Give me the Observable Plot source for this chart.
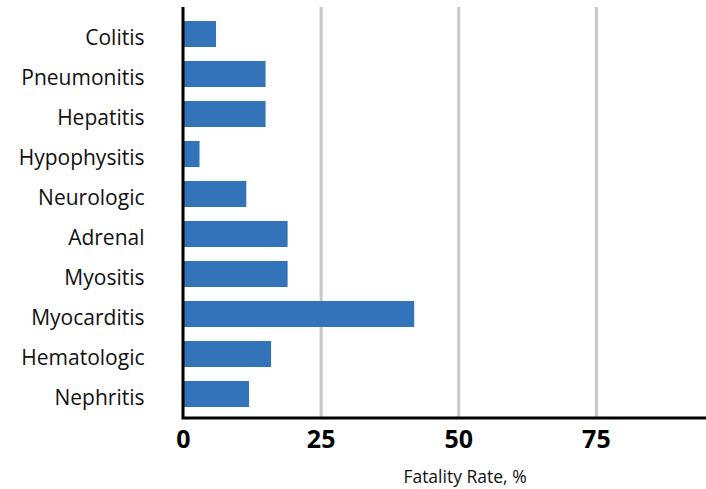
<!DOCTYPE html>
<html>
<head>
<meta charset="utf-8">
<script src="https://cdn.jsdelivr.net/npm/d3@7"></script>
<script src="https://cdn.jsdelivr.net/npm/@observablehq/plot@0.6"></script>
<style>
  html, body { margin: 0; padding: 0; background: #fff; }
  #chart svg { font-family: "Open Sans", sans-serif; }
  #chart g[aria-label="x-axis tick label"] text { font-weight: bold; }
</style>
</head>
<body>
<div id="chart"></div>
<script>
const categories = ["Colitis", "Pneumonitis", "Hepatitis", "Hypophysitis", "Neurologic", "Adrenal", "Myositis", "Myocarditis", "Hematologic", "Nephritis"];
const fatalityRates = [6, 15, 15, 3, 11.5, 19, 19, 42, 16, 12];
const xTicks = [0, 25, 50, 75];
const gridTicks = [25, 50, 75];
const xLabel = "Fatality Rate, %";

const data = categories.map((c, i) => ({category: c, rate: fatalityRates[i]}));

function axisLines(index, scales, values, dims) {
  const {width, height, marginLeft, marginTop, marginBottom, marginRight} = dims;
  const p = d3.create("svg:path")
    .attr("d", `M${marginLeft},${marginTop}V${height - marginBottom}H${width - marginRight}`)
    .attr("fill", "none")
    .attr("stroke", "#000")
    .attr("stroke-width", 3);
  return p.node();
}

const chart = Plot.plot({
  width: 706,
  height: 489,
  marginTop: 7,
  marginBottom: 71,
  marginLeft: 183,
  marginRight: 0,
  x: {domain: [0, 95]},
  y: {domain: categories, paddingInner: 0.354, paddingOuter: 0.287, align: 0.56},
  marks: [
    Plot.gridX(gridTicks, {stroke: "#c8c8c8", strokeWidth: 3, strokeOpacity: 1}),
    Plot.barX(data, {x: "rate", y: "category", fill: "#3373b9"}),
    axisLines,
    Plot.axisY({tickSize: 0, tickPadding: 39, fontSize: 21, dy: 4, label: null, fill: "#111"}),
    Plot.axisX(xTicks, {tickSize: 0, tickPadding: 12, fontSize: 25, label: null, fill: "#000"}),
    Plot.text([xLabel], {frameAnchor: "bottom", dx: 20, dy: 64, fontSize: 17.5, fill: "#111"})
  ]
});
document.getElementById("chart").append(chart);
</script>
</body>
</html>
